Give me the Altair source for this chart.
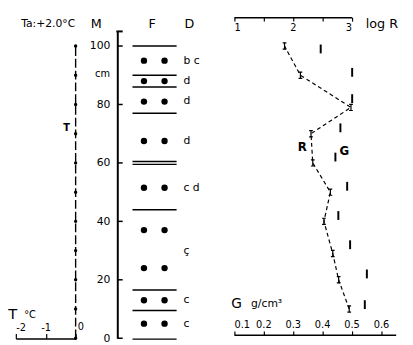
import altair as alt
import pandas as pd

FONT = "DejaVu Sans"

# ---- temperature profile (T, deg C) ----
t_depth = [0, 10, 20, 30, 40, 50, 60, 70, 80, 90, 100]
t_value = [0, 0, 0, 0, 0, 0, 0, 0, 0, 0, 0]
t_ticks = [-2, -1, 0]
t_tick_labels = ["-2", "-1", ""]

# ---- stratigraphy column (F, D) ----
m_ticks = [0, 20, 40, 60, 80, 100]
f_line_depth = [100, 90, 86, 77, 60.5, 59.5, 44, 16.5, 9.5, -0.3]
f_dot_depth = [95, 88, 81, 67.5, 51.5, 37, 24, 13, 5]
d_label_depth = [95, 88, 81, 67.5, 51.5, 30, 13, 5]
d_labels = ["b c", "d", "d", "d", "c d", "ç", "c", "c"]

# ---- resistivity (log R) ----
r_depth = [100, 90, 79, 70, 60, 50, 40, 29, 20, 10]
r_logR = [1.86, 2.13, 2.99, 2.31, 2.34, 2.64, 2.53, 2.68, 2.78, 2.96]
r_ticks = [1, 1.5, 2, 2.5, 3]
r_tick_labels = ["1", "", "2", "", "3"]

# ---- density (G, g/cm3) ----
g_depth = [99, 91, 82, 72, 62, 52, 42, 32, 22, 11.5]
g_value = [0.395, 0.502, 0.502, 0.462, 0.445, 0.485, 0.455, 0.495, 0.552, 0.545]
g_ticks = [0.1, 0.2, 0.3, 0.4, 0.5, 0.6]

# ---------------- shared depth axis ----------------
YS = alt.Scale(domain=[0, 105], nice=False, zero=False)
YA = alt.Axis(orient="left", offset=-111.5, values=m_ticks, ticks=False,
              domainWidth=2, domainColor="black", labelPadding=7.5,
              labelFont=FONT, labelFontSize=11, labelColor="black",
              title=None, grid=False)


def yf(field):
    return alt.Y(field, type="quantitative", scale=YS, axis=YA)


def yd(v):
    return alt.YDatum(v, type="quantitative", scale=YS, axis=YA)


def note(text, x, y, **kw):
    base = dict(font=FONT, color="black")
    base.update(kw)
    return alt.Chart(pd.DataFrame({"t": [text]})).mark_text(**base).encode(
        x=x, y=yd(y), text="t:N")


def axis_common(**kw):
    d = dict(tickColor="black", domainColor="black", labelFont=FONT,
             labelColor="black", title=None, grid=False)
    d.update(kw)
    return alt.Axis(**d)


def label_expr(values, labels):
    return " : ".join(
        f"datum.value == {v} ? '{l}'" for v, l in zip(values, labels)) + " : ''"


# ---------------- T group ----------------
TS = alt.Scale(domain=[-2, 0], range=[8, 69], nice=False, zero=False)
TA = axis_common(orient="top", offset=-313.2, values=t_ticks,
                 labelExpr=label_expr(t_ticks, t_tick_labels),
                 tickSize=5, domainWidth=1.5, tickWidth=1.2, labelPadding=1,
                 labelFontSize=10)


def tx(v):
    return alt.XDatum(v, type="quantitative", scale=TS, axis=TA)


t_df = pd.DataFrame({"depth": t_depth, "T": t_value})
t_line = alt.Chart(t_df).mark_line(color="black", strokeWidth=1.4, strokeDash=[9, 3]).encode(
    x=alt.X("T:Q", scale=TS, axis=TA), y=yf("depth"), order="depth:Q")
t_pts = alt.Chart(t_df).mark_point(filled=True, color="black", size=12, opacity=1).encode(
    x=alt.X("T:Q", scale=TS, axis=TA), y=yf("depth"))
t_group = alt.layer(
    t_line, t_pts,
    note("T", tx(-0.3), 72, fontSize=10, fontWeight="bold", align="center", baseline="middle"),
    note("T", tx(-2.1), 8.2, fontSize=15, align="center", baseline="middle"),
    note("°C", tx(-1.72), 7.8, fontSize=10, align="left", baseline="middle"),
    note("0", tx(0.07), 3.9, fontSize=10, align="left", baseline="middle"),
)

# ---------------- F / D / M group ----------------
f_lines = alt.Chart(pd.DataFrame({"depth": f_line_depth})).mark_rule(
    color="black", strokeWidth=1.5).encode(
    x=alt.value(127), x2=alt.value(172), y=yf("depth"))
dots_df = pd.DataFrame({"depth": f_dot_depth * 2,
                        "col": ["a"] * len(f_dot_depth) + ["b"] * len(f_dot_depth)})
f_dots = alt.Chart(dots_df).mark_point(filled=True, color="black", size=42, opacity=1).encode(
    x=alt.X("col:N", scale=alt.Scale(type="point", domain=["a", "b"],
                                     range=[138.7, 159.7], padding=0),
            axis=None),
    y=yf("depth"))
d_text = alt.Chart(pd.DataFrame({"depth": d_label_depth, "lab": d_labels})).mark_text(
    font=FONT, fontSize=11, align="left", baseline="middle", color="black").encode(
    x=alt.value(179), y=yf("depth"), text="lab:N")
m_tick_rules = alt.Chart(pd.DataFrame({"depth": m_ticks})).mark_rule(
    color="black", strokeWidth=1.5).encode(
    x=alt.value(111.5), x2=alt.value(117), y=yf("depth"))
m_top = alt.Chart(pd.DataFrame({"depth": [105]})).mark_rule(
    color="black", strokeWidth=2).encode(
    x=alt.value(110.5), x2=alt.value(117), y=yf("depth"))
f_group = alt.layer(
    f_lines, d_text, m_tick_rules, m_top, f_dots,
    note("Ta:+2.0°C", alt.value(41), 107.5, fontSize=11, align="center", baseline="middle"),
    note("M", alt.value(90), 107.5, fontSize=13, align="center", baseline="middle"),
    note("F", alt.value(147), 107.5, fontSize=13, align="center", baseline="middle"),
    note("D", alt.value(185), 107.5, fontSize=13, align="center", baseline="middle"),
    note("cm", alt.value(104), 90.3, fontSize=10, align="right", baseline="middle"),
)

# ---------------- R group ----------------
RS = alt.Scale(domain=[1, 3], range=[230.5, 350.5], nice=False, zero=False)
RA = axis_common(orient="bottom", offset=-327.5, values=r_ticks,
                 labelExpr=label_expr(r_ticks, r_tick_labels),
                 tickSize=4, domainWidth=1.5, tickWidth=1.2, labelPadding=2,
                 labelFontSize=10)


def rx(v):
    return alt.XDatum(v, type="quantitative", scale=RS, axis=RA)


r_df = pd.DataFrame({"depth": r_depth, "logR": r_logR})
r_line = alt.Chart(r_df).mark_line(color="black", strokeWidth=1.2, strokeDash=[4, 3]).encode(
    x=alt.X("logR:Q", scale=RS, axis=RA), y=yf("depth"), order="depth:Q")
r_pts = alt.Chart(r_df).mark_point(
    shape="M-0.6,-1H0.6M0,-1V1M-0.6,1H0.6", filled=False, color="black",
    strokeWidth=1.2, size=40, opacity=1).encode(
    x=alt.X("logR:Q", scale=RS, axis=RA), y=yf("depth"))
r_group = alt.layer(
    r_line, r_pts,
    note("log R", rx(3.24), 107.5, fontSize=13, align="left", baseline="middle"),
    note("R", rx(2.163), 65.3, fontSize=12, fontWeight="bold", align="center", baseline="middle"),
)

# ---------------- G group ----------------
GS = alt.Scale(domain=[0.1, 0.65], range=[230.5, 395.5], nice=False, zero=False)
GA = axis_common(orient="top", offset=-309.5, values=g_ticks, format=".1f",
                 tickSize=4, domainWidth=1.5, tickWidth=1.2, labelPadding=1,
                 labelFontSize=10)


def gx(v):
    return alt.XDatum(v, type="quantitative", scale=GS, axis=GA)


g_df = pd.DataFrame({"depth": g_depth, "G": g_value})
g_marks = alt.Chart(g_df).mark_tick(orient="vertical", size=9, thickness=2, color="black", opacity=1).encode(
    x=alt.X("G:Q", scale=GS, axis=GA), y=yf("depth"))
g_group = alt.layer(
    g_marks,
    note("G", gx(0.475), 64.2, fontSize=12, fontWeight="bold", align="center", baseline="middle"),
    note("G", gx(0.109), 11.6, fontSize=14, align="center", baseline="middle"),
    note("g/cm³", gx(0.158), 11.8, fontSize=11, align="left", baseline="middle"),
)

chart = alt.layer(t_group, f_group, r_group, g_group).resolve_scale(
    x="independent").resolve_axis(x="independent").properties(
    width=405, height=313,
    padding={"left": 0, "top": 20.5, "right": 0, "bottom": 3.5},
    autosize=alt.AutoSizeParams(type="none"),
    background="white",
).configure_view(strokeWidth=0)

chart.save("out.html", embed_options={"renderer": "svg", "actions": False})
